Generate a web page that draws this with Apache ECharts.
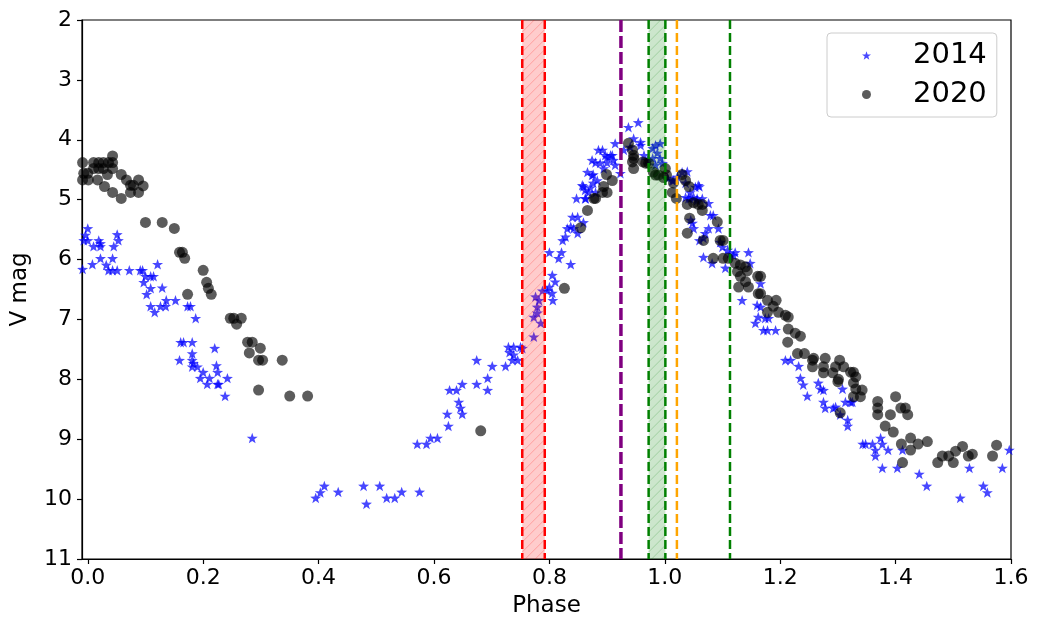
<!DOCTYPE html>
<html>
<head>
<meta charset="utf-8">
<script src="https://cdn.jsdelivr.net/npm/echarts@6/dist/echarts.min.js"></script>
<style>
html,body{margin:0;padding:0;background:#fff;}
#chart{width:1040px;height:631px;}
</style>
</head>
<body>
<div id="chart"></div>
<script>
// ---- data ----
const phase2014 = [0,-0.004,-0.007,0,0.019,0.022,0.022,0.01,0.051,0.053,0.045,
-0.009,0.008,0.022,0.043,0.032,0.036,0.043,0.051,0.072,0.091,0.095,0.121,0.1,0.109,0.114,0.097,0.109,0.129,0.102,0.136,0.152,0.109,0.126,0.135,0.116,0.173,0.178,0.187,
0.161,0.166,0.181,0.22,0.159,0.181,0.181,0.183,0.181,0.19,0.2,0.195,0.211,0.207,0.225,0.227,0.223,0.225,0.242,0.238,0.285,
0.395,0.403,0.41,0.434,0.478,0.483,0.506,0.518,0.532,0.544,0.575,
0.571,0.587,0.594,0.606,0.625,0.623,0.643,0.646,0.649,0.627,0.639,0.649,0.674,0.693,0.693,0.674,0.701,0.724,0.729,0.738,0.75,0.731,0.738,0.736,0.745,
0.753,0.773,0.773,0.779,0.785,0.779,0.776,0.782,0.788,0.796,0.8,0.805,0.806,0.805,0.81,0.8,0.821,0.816,0.837,0.823,0.828,0.831,0.837,0.842,0.849,0.84,0.849,0.859,0.847,0.863,0.859,0.871,0.876,0.883,0.876,0.868,0.88,0.888,0.894,0.9,0.892,0.9,0.909,0.911,0.914,0.923,0.937,0.954,0.929,0.94,0.946,0.958,0.958,0.964,0.97,0.979,0.984,0.992,0.987,0.992,0.996,1.015,1.036,1.041,1.05,1.056,1.039,1.048,1.05,1.06,
0.885,0.897,0.906,0.914,0.874,0.88,0.866,0.874,0.857,0.862,0.862,0.979,0.984,1.03,1.053,1.058,1.044,
1.005,1.013,1.022,1.06,1.044,1.056,1.065,1.036,1.076,1.079,1.084,1.076,1.093,1.07,1.067,1.045,1.096,1.1,1.109,1.122,1.145,1.113,1.119,1.067,1.082,1.105,1.148,1.166,1.134,1.16,1.166,1.162,1.174,1.18,1.157,1.171,1.178,1.192,
1.209,1.218,1.232,1.235,1.24,1.247,1.266,1.27,1.275,1.275,1.278,1.292,1.296,1.308,1.313,1.322,1.325,1.304,1.317,1.317,1.343,1.348,1.36,1.365,1.365,1.374,1.377,1.387,1.377,1.403,1.412,1.441,1.454,1.512,1.528,1.552,1.559,1.585,1.597];
const mag2014 = [5.48,5.59,5.68,5.68,5.68,5.73,5.78,5.78,5.58,5.68,5.78,
6.16,6.08,5.98,5.98,6.09,6.18,6.18,6.18,6.18,6.18,6.18,6.08,6.28,6.28,6.28,6.38,6.48,6.47,6.58,6.68,6.68,6.78,6.78,6.78,6.88,6.78,6.78,6.98,
7.38,7.38,7.38,7.48,7.68,7.57,7.68,7.73,7.79,7.79,7.88,7.98,7.98,8.08,8.08,8.08,7.77,7.88,7.98,8.28,8.98,
9.98,9.89,9.78,9.88,9.78,10.08,9.78,9.98,9.98,9.88,9.88,
9.08,9.08,8.98,8.98,8.78,8.58,8.38,8.48,8.58,8.18,8.18,8.08,8.08,8.18,7.98,7.68,7.78,7.78,7.46,7.46,7.46,7.55,7.59,7.68,7.68,
7.48,7.29,6.96,6.89,7.06,6.79,6.62,6.68,6.52,6.52,6.46,6.56,6.68,6.26,6.37,5.88,5.88,5.98,6.08,5.68,5.62,5.48,5.45,5.48,5.56,5.29,5.29,5.38,4.98,4.98,4.78,4.8,4.58,4.68,4.72,4.88,4.88,4.39,4.48,4.38,4.17,4.29,4.26,4.34,4.06,4.56,3.79,3.71,4.17,4.12,3.98,4.04,4.09,4.26,4.34,4.14,4.09,4.06,4.22,4.31,4.39,4.68,4.72,4.98,4.96,5.01,4.53,5.39,5.48,5.68,
4.17,4.26,4.26,4.42,4.34,4.38,4.54,4.59,4.76,4.84,4.98,4.31,4.42,4.54,4.79,4.76,4.98,
4.64,4.68,4.62,4.78,4.88,4.98,4.98,4.96,5.06,5.26,5.26,5.48,5.48,5.56,5.64,5.34,5.71,5.79,5.84,5.88,5.88,5.9,5.93,5.96,6.06,6.14,6.06,6.4,6.68,6.76,6.79,6.96,6.98,6.98,7.06,7.18,7.18,7.18,
7.68,7.68,7.78,7.98,8.09,8.28,8.06,8.16,8.18,8.38,8.48,8.48,8.46,8.16,8.38,8.38,8.38,8.59,8.68,8.78,9.08,9.08,9.08,9.18,9.28,8.98,9.08,9.18,9.48,9.48,9.18,9.58,9.78,9.98,9.48,9.78,9.89,9.48,9.18];

const phase2020 = [-0.009,0.01,0.019,0.027,0.036,0.043,0.043,0,-0.007,0.01,0.019,0.027,0.043,0.034,-0.009,0.001,0.017,0.029,0.043,0.058,0.058,0.067,0.074,0.079,0.088,0.096,0.074,0.088,
0.1,0.129,0.15,0.159,0.164,0.168,0.2,0.206,0.209,0.214,0.173,0.247,0.253,0.266,0.258,
0.277,0.285,0.299,0.28,0.296,0.303,0.337,0.296,0.35,0.381,0.681,
0.826,0.854,0.866,0.877,0.88,0.892,0.9,0.894,0.899,0.909,0.937,0.944,0.946,0.944,0.946,0.946,0.962,0.967,0.972,0.98,0.984,0.989,0.998,1.001,1.003,1.03,1.036,1.042,1.013,1.02,1.039,1.05,1.058,1.043,1.039,1.015,
1.065,1.065,1.091,1.067,1.096,1.101,1.084,1.101,1.11,1.122,1.131,1.14,1.126,1.143,1.131,1.161,1.166,1.14,1.128,1.145,1.162,1.166,1.178,1.193,1.188,1.178,1.197,
1.209,1.214,1.214,1.226,1.235,1.213,1.23,1.242,1.256,1.258,1.256,1.278,1.303,1.275,1.296,1.31,1.322,1.327,1.275,1.291,1.301,1.3,1.331,1.327,1.331,1.342,1.327,1.339,1.304,
1.369,1.369,1.369,1.4,1.391,1.409,1.417,1.421,1.382,1.396,1.426,1.41,1.426,1.439,1.455,1.412,
1.516,1.504,1.492,1.481,1.473,1.5,1.526,1.533,1.575,1.568];
const mag2020 = [4.38,4.38,4.38,4.38,4.38,4.38,4.27,4.56,4.56,4.48,4.48,4.48,4.48,4.58,4.67,4.67,4.67,4.78,4.88,4.98,4.58,4.67,4.76,4.76,4.67,4.77,4.88,4.88,
5.38,5.38,5.48,5.88,5.88,5.98,6.18,6.38,6.48,6.58,6.58,6.98,6.98,6.98,7.08,
7.38,7.38,7.48,7.56,7.68,7.68,7.68,8.18,8.28,8.28,8.86,
6.48,5.47,5.18,4.98,4.98,4.88,4.88,4.78,4.58,4.68,4.06,4.17,4.26,4.37,4.31,4.48,4.37,4.39,4.39,4.54,4.59,4.59,4.63,4.48,4.59,4.58,4.68,4.78,4.88,4.98,5.08,5.05,5.08,5.31,5.56,4.72,
5.08,5.18,5.37,5.68,5.68,5.68,5.98,5.98,5.98,6.06,6.09,6.12,6.2,6.19,6.28,6.28,6.28,6.37,6.46,6.46,6.57,6.57,6.68,6.68,6.78,6.88,6.88,
6.93,6.96,7.16,7.23,7.28,7.38,7.57,7.57,7.68,7.65,7.79,7.65,7.68,7.79,7.79,7.79,7.88,7.88,7.89,7.89,8.0,8.04,7.96,8.06,8.16,8.18,8.29,8.29,8.56,
8.37,8.48,8.59,8.29,8.59,8.48,8.48,8.59,8.78,8.88,8.98,9.08,9.18,9.08,9.04,9.39,
9.12,9.2,9.28,9.28,9.39,9.39,9.28,9.25,9.1,9.28];

const xTicks = [0, 0.2, 0.4, 0.6, 0.8, 1.0, 1.2, 1.4, 1.6];
const yTicks = [2, 3, 4, 5, 6, 7, 8, 9, 10, 11];
const seriesNames = ['2014', '2020'];

// vertical reference lines (phase positions) and shaded spans
const vlinePhases = [0.753, 0.792, 0.924, 0.972, 1.001, 1.021, 1.113];
const vlineColors = ['#ff0000', '#ff0000', '#800080', '#008000', '#008000', '#ffa500', '#008000'];
const spanStarts = [0.753, 0.972];
const spanEnds = [0.792, 1.001];
const spanColors = ['255,0,0', '0,128,0'];

// ---- chart ----
const FONT = 'DejaVu Sans';
const starPath = 'path://M0,-10 L2.35,-3.24 L9.51,-3.09 L3.8,1.24 L5.88,8.09 L0,4 L-5.88,8.09 L-3.8,1.24 L-9.51,-3.09 L-2.35,-3.24 Z';

const data2014 = phase2014.map((p, i) => [p, mag2014[i]]);
const data2020 = phase2020.map((p, i) => [p, mag2020[i]]);

function renderSpan(params, api) {
  const x0 = api.value(0), x1 = api.value(1), ci = api.value(2);
  const a = api.coord([x0, 2]);
  const b = api.coord([x1, 11]);
  const L = Math.min(a[0], b[0]), R = Math.max(a[0], b[0]);
  const T = Math.min(a[1], b[1]), B = Math.max(a[1], b[1]);
  const col = spanColors[ci];
  const children = [{
    type: 'rect',
    shape: {x: L, y: T, width: R - L, height: B - T},
    style: {fill: 'rgba(' + col + ',0.2)'}
  }];
  const step = 10;
  for (let s = L + T + 2; s < R + B; s += step) {
    const xa = Math.max(L, s - B), xb = Math.min(R, s - T);
    if (xb <= xa) continue;
    children.push({
      type: 'line',
      shape: {x1: xa, y1: s - xa, x2: xb, y2: s - xb},
      style: {stroke: 'rgba(' + col + ',0.22)', lineWidth: 1}
    });
  }
  return {type: 'group', children: children};
}

const series = [
  {
    name: '2014', type: 'scatter', data: data2014,
    symbol: starPath, symbolSize: 11, symbolKeepAspect: true,
    itemStyle: {color: 'rgba(0,0,255,0.9)'}, z: 2
  },
  {
    name: '2020', type: 'scatter', data: data2020,
    symbol: 'circle', symbolSize: 11,
    itemStyle: {color: 'rgba(0,0,0,0.8)'}, z: 3
  },
  {
    type: 'custom', renderItem: renderSpan, silent: true, z: 4,
    data: spanStarts.map((s, i) => [s, spanEnds[i], i]),
    encode: {x: [0, 1]}
  }
];
vlinePhases.forEach((p, i) => {
  const purple = vlineColors[i] === '#800080';
  series.push({
    type: 'line', silent: true, symbol: 'none', z: 5,
    data: [[p, 2], [p, 11]],
    lineStyle: {color: vlineColors[i], width: purple ? 3.5 : 2.5, type: purple ? [12, 4] : [9, 4]}
  });
});

const chart = echarts.init(document.getElementById('chart'));
chart.setOption({
  animation: false,
  backgroundColor: '#fff',
  textStyle: {fontFamily: FONT},
  grid: {left: 82, right: 29, top: 20, bottom: 72, show: true, borderColor: '#000', borderWidth: 1.2, backgroundColor: 'transparent'},
  legend: {
    data: [
      {name: seriesNames[0], icon: starPath},
      {name: seriesNames[1], icon: 'circle'}
    ],
    orient: 'vertical', left: 827, top: 33,
    backgroundColor: 'rgba(255,255,255,0.8)', borderColor: '#cccccc', borderWidth: 1, borderRadius: 4,
    padding: [8, 10, 8, 35], itemGap: 10, itemWidth: 9, itemHeight: 9,
    itemStyle: {borderWidth: 0},
    textStyle: {fontSize: 29, color: '#000', fontFamily: FONT, padding: [0, 0, 0, 37]}
  },
  xAxis: {
    type: 'value', min: -0.01, max: 1.6,
    name: 'Phase', nameLocation: 'middle', nameGap: 36,
    nameTextStyle: {fontSize: 23, color: '#000', fontFamily: FONT},
    axisLine: {show: true, onZero: false, lineStyle: {color: '#000', width: 1.2}},
    axisTick: {show: true, inside: false, length: 5, lineStyle: {color: '#000', width: 1.2}, customValues: xTicks},
    axisLabel: {fontSize: 22, color: '#000', margin: 8, fontFamily: FONT, customValues: xTicks, formatter: v => v.toFixed(1)},
    splitLine: {show: false}
  },
  yAxis: {
    type: 'value', min: 2, max: 11, interval: 1, inverse: true,
    name: 'V mag', nameLocation: 'middle', nameGap: 50,
    nameTextStyle: {fontSize: 23, color: '#000', fontFamily: FONT},
    axisLine: {show: true, onZero: false, lineStyle: {color: '#000', width: 1.2}},
    axisTick: {show: true, inside: false, length: 5, lineStyle: {color: '#000', width: 1.2}},
    axisLabel: {fontSize: 22, color: '#000', margin: 10, fontFamily: FONT, formatter: v => String(v)},
    splitLine: {show: false}
  },
  series: series
});
</script>
</body>
</html>
